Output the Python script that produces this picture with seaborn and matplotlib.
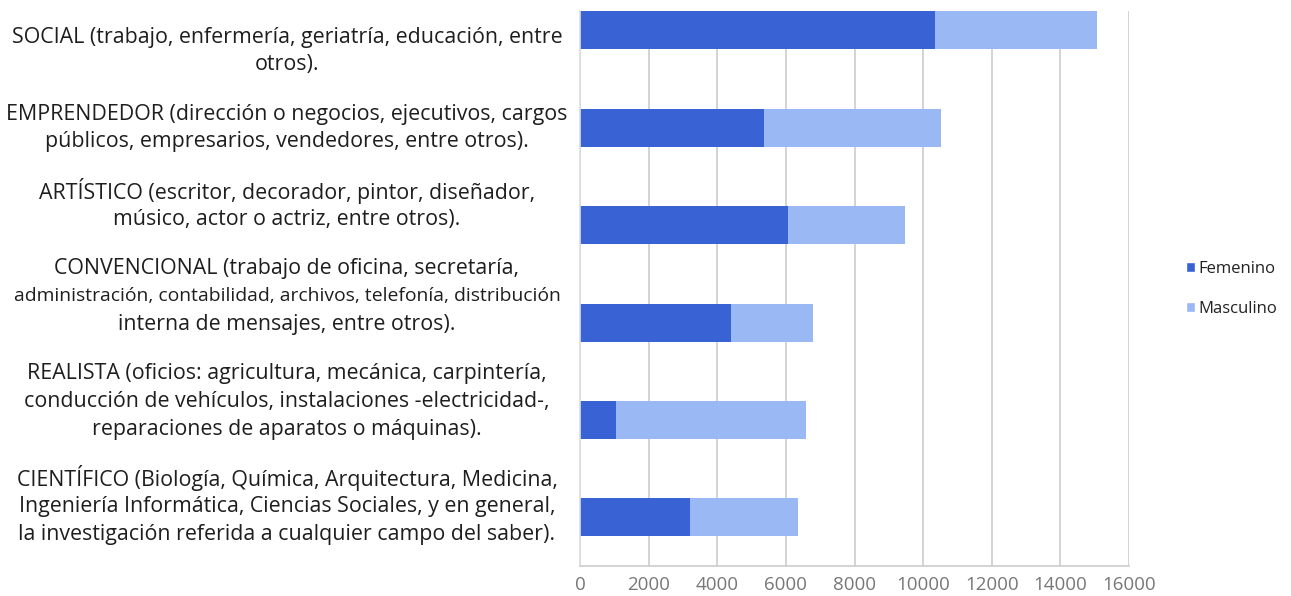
import matplotlib
matplotlib.use("Agg")
import matplotlib.pyplot as plt
from matplotlib.patches import Patch
import numpy as np
import pandas as pd
import seaborn as sns

# data
categorias = [
    "SOCIAL (trabajo, enfermería, geriatría, educación, entre\notros).",
    "EMPRENDEDOR (dirección o negocios, ejecutivos, cargos\npúblicos, empresarios, vendedores, entre otros).",
    "ARTÍSTICO (escritor, decorador, pintor, diseñador,\nmúsico, actor o actriz, entre otros).",
    "CONVENCIONAL (trabajo de oficina, secretaría,\nadministración, contabilidad, archivos, telefonía, distribución\ninterna de mensajes, entre otros).",
    "REALISTA (oficios: agricultura, mecánica, carpintería,\nconducción de vehículos, instalaciones -electricidad-,\nreparaciones de aparatos o máquinas).",
    "CIENTÍFICO (Biología, Química, Arquitectura, Medicina,\nIngeniería Informática, Ciencias Sociales, y en general,\nla investigación referida a cualquier campo del saber).",
]
femenino = [10360, 5350, 6060, 4410, 1050, 3200]
masculino = [4710, 5180, 3420, 2380, 5530, 3140]
x_ticks = [0, 2000, 4000, 6000, 8000, 10000, 12000, 14000, 16000]

C_FEM = "#3962d5"
C_MAS = "#9ab8f4"
W, H = 1291, 596

df = pd.DataFrame({
    "cat": categorias,
    "Femenino": femenino,
    "Masculino": masculino,
})
df["total"] = df["Femenino"] + df["Masculino"]

sns.set_style("white")
plt.rcParams["font.family"] = ["Open Sans", "DejaVu Sans"]

fig = plt.figure(figsize=(W / 100, H / 100), dpi=100)
ax = fig.add_axes([580 / W, 1 - 566 / H, 549 / W, 555 / H])

sns.barplot(data=df, y="cat", x="total", color=C_MAS, orient="h",
            width=0.39, ax=ax, saturation=1, edgecolor="none")
sns.barplot(data=df, y="cat", x="Femenino", color=C_FEM, orient="h",
            width=0.39, ax=ax, saturation=1, edgecolor="none")

ax.set_xlim(0, 16000)
ax.set_ylim(5.5, -0.2)
ax.set_xticks(x_ticks)
ax.set_xticklabels([str(t) for t in x_ticks], color="#777777", fontsize=13.5)
ax.tick_params(axis="x", length=0, pad=7)
ax.grid(axis="x", color="#cccccc", linewidth=1.2)
ax.set_axisbelow(True)
ax.set_xlabel("")
ax.set_ylabel("")

# band ticks on the y axis; category labels laid out as their own column
ax.set_yticks(np.arange(len(categorias)) + 0.5)
ax.set_yticklabels([])
ax.tick_params(axis="y", length=5, color="#dddddd", width=1.2)
for s in ["top", "right"]:
    ax.spines[s].set_visible(False)
ax.spines["left"].set_color("#dddddd")
ax.spines["bottom"].set_color("#cccccc")
ax.spines["left"].set_linewidth(1.2)
ax.spines["bottom"].set_linewidth(1.2)

y_px = 37
for lab in categorias:
    for ln in lab.split("\n"):
        fs = 15.4
        # the long line in the reference is set tighter
        if len(ln) > 58:
            fs = 13.9
        fig.text(287 / W, 1 - y_px / H, ln, ha="center", va="center",
                 fontsize=fs, color="#1e1e1e")
        y_px += 27.9
    y_px += 21.3

handles = [Patch(facecolor=C_FEM, label="Femenino"),
           Patch(facecolor=C_MAS, label="Masculino")]
fig.legend(handles=handles, loc="center left", bbox_to_anchor=(1171 / W, 1 - 289 / H),
           frameon=False, fontsize=12, handlelength=0.55, handleheight=0.55,
           handletextpad=0.2, labelspacing=1.45, labelcolor="#222222")

fig.savefig("out.png", dpi=100)
